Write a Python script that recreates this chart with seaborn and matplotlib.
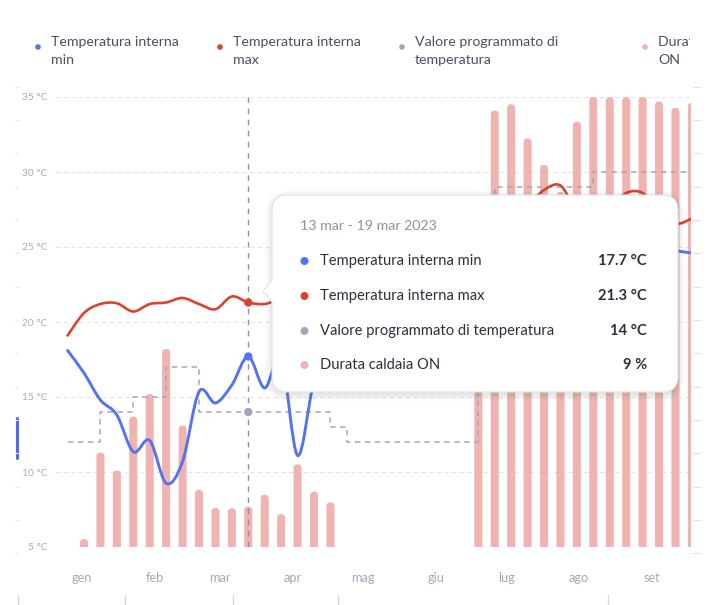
import numpy as np
import pandas as pd
import matplotlib
matplotlib.use("Agg")
import matplotlib.pyplot as plt
import seaborn as sns
from matplotlib.patches import FancyBboxPatch, Circle, Polygon, PathPatch
from matplotlib.path import Path
from matplotlib.lines import Line2D
from matplotlib.transforms import Bbox

# ---------------- data ----------------
week_start = pd.date_range("2022-12-26", periods=39, freq="7D")
temp_min = [18.1, 16.6, 14.8, 13.8, 11.35, 12.1, 9.25, 10.7, 15.35, 14.6, 15.8, 17.7, 15.6,
            17.6, 11.1, 16.0, 17.5, 18.2, 18.9, 19.4, 20.3, 20.8, 21.6, 22.1, 23.0,
            23.5, 24.1, 24.6, 24.9, 25.3, 25.6, 25.2, 25.7, 25.9, 25.4, 25.2, 24.9, 24.75, 24.6]
temp_max = [19.1, 20.6, 21.2, 21.25, 20.7, 21.2, 21.3, 21.6, 21.2, 20.85, 21.7, 21.3, 21.2,
            21.5, 21.0, 21.8, 22.4, 23.0, 23.6, 24.5, 25.2, 25.8, 26.4, 27.0, 27.4,
            27.6, 27.9, 27.5, 27.8, 28.8, 29.1, 27.5, 27.9, 27.6, 28.6, 28.6, 27.4, 26.55, 26.9]
setpoint = [12, 12, 14, 14, 15, 15, 17, 17, 14, 14, 14, 14, 14, 14, 14, 14, 13,
            12, 12, 12, 12, 12, 12, 12, 12, 20, 29, 29, 29, 29, 29, 29, 30, 30, 30, 30, 30, 30, 30]
boiler_on_pct = [0, 1.8, 21, 17, 29, 34, 44, 27, 12.7, 8.7, 8.6, 9, 11.6, 7.3, 18.4, 12.3, 9.9,
                 0, 0, 0, 0, 0, 0, 0, 0,
                 62, 97, 98.4, 90.8, 84.9, 78.9, 94.5, 100, 100, 100, 100, 99, 97.6, 98.7]
it_months = ["gen", "feb", "mar", "apr", "mag", "giu", "lug", "ago", "set", "ott", "nov", "dic"]
month_ticks = ["2023-01-01", "2023-02-01", "2023-03-01", "2023-04-01", "2023-05-01",
               "2023-06-01", "2023-07-01", "2023-08-01", "2023-09-01"]
y_ticks = [5, 10, 15, 20, 25, 30, 35]
legend_labels = [("Temperatura interna", "min"), ("Temperatura interna", "max"),
                 ("Valore programmato di", "temperatura"), ("Durata caldaia", "ON")]
tooltip_labels = ["Temperatura interna min", "Temperatura interna max",
                  "Valore programmato di temperatura", "Durata caldaia ON"]
hover = 11  # week of 13 mar 2023

BLUE = "#5672ee"
RED = "#d9432f"
GRAY = "#a3a6b8"
PINK = "#efb4af"

ref = pd.Timestamp("2023-01-02")
df = pd.DataFrame({
    "day": [(d - ref).days for d in week_start],
    "tmin": temp_min, "tmax": temp_max, "setp": setpoint, "pct": boiler_on_pct,
})


def smooth_line(ax, line):
    """Replace a straight polyline by a smooth curve through the same points."""
    x, y = line.get_xdata(), line.get_ydata()
    pts = np.column_stack([x, y]).astype(float)
    n = len(pts)
    verts = [pts[0]]
    codes = [Path.MOVETO]
    for i in range(n - 1):
        p0 = pts[i - 1] if i > 0 else pts[i]
        p1, p2 = pts[i], pts[i + 1]
        p3 = pts[i + 2] if i + 2 < n else pts[i + 1]
        c1 = p1 + (p2 - p0) / 6.0
        c2 = p2 - (p3 - p1) / 6.0
        verts += [c1, c2, p2]
        codes += [Path.CURVE4] * 3
    patch = PathPatch(Path(verts, codes), fc="none", ec=line.get_color(),
                      lw=line.get_linewidth(), capstyle="round", joinstyle="round",
                      zorder=line.get_zorder())
    line.remove()
    ax.add_patch(patch)


# ---------------- figure ----------------
sns.set_style("white")
plt.rcParams["font.family"] = ["Lato", "DejaVu Sans"]
W, H = 707, 605
fig = plt.figure(figsize=(W / 100, H / 100), dpi=100)
fig.patch.set_facecolor("white")

L, R, T, B = 55, 691, 97, 547
ax = fig.add_axes([L / W, (H - B) / H, (R - L) / W, (B - T) / H])
ax_bar = ax.twinx()
ax_line = ax.twinx()

px_day = 16.43 / 7.0
xmin = (L - 84) / px_day
xmax = xmin + (R - L) / px_day

# bars
bars = df[df["pct"] > 0]
sns.barplot(data=bars, x="day", y="pct", native_scale=True, orient="x", width=0.49,
            color=PINK, saturation=1, errorbar=None, ax=ax_bar, linewidth=0)
ax_bar.set_ylim(0, 100)
ax_bar.set_xlim(xmin, xmax)
aspect = px_day / ((B - T) / 100.0)
for p in list(ax_bar.patches):
    x0, y0, w, h = p.get_x(), p.get_y(), p.get_width(), p.get_height()
    r = w / 2.0
    ext = r * aspect * 1.3
    fb = FancyBboxPatch((x0, y0 - ext), w, h + ext,
                        boxstyle=f"round,pad=0,rounding_size={r}",
                        mutation_aspect=aspect, fc=PINK, ec="none", zorder=2)
    p.remove()
    ax_bar.add_patch(fb)

# lines
sns.lineplot(data=df, x="day", y="setp", ax=ax_line, color=GRAY, lw=1.1,
             drawstyle="steps-post", linestyle=(0, (3.5, 3)), errorbar=None)
sns.lineplot(data=df, x="day", y="tmax", ax=ax_line, color=RED, lw=1.9, errorbar=None)
sns.lineplot(data=df, x="day", y="tmin", ax=ax_line, color=BLUE, lw=2.1, errorbar=None)
for ln in list(ax_line.lines)[1:]:
    smooth_line(ax_line, ln)
hx = df["day"][hover]
ax_line.axvline(hx, color="#8d91a1", lw=1.0, linestyle=(0, (4, 4)), zorder=1)
sns.scatterplot(x=[hx, hx, hx], y=[temp_min[hover], temp_max[hover], setpoint[hover]],
                hue=["a", "b", "c"], palette=[BLUE, RED, GRAY], s=36, linewidth=0,
                legend=False, ax=ax_line, zorder=5)

for a in (ax, ax_bar, ax_line):
    a.set_xlim(xmin, xmax)
ax.set_ylim(5, 35)
ax_line.set_ylim(5, 35)

ax_bar.axis("off")
ax_line.axis("off")

# axis styling
for s in ax.spines.values():
    s.set_visible(False)
ax.set_yticks(y_ticks)
ax.set_yticklabels([f"{v} °C" for v in y_ticks])
mt = [(pd.Timestamp(m) - ref).days for m in month_ticks]
ax.set_xticks(mt)
ax.set_xticklabels(it_months[:len(mt)])
ax.tick_params(axis="y", length=0, pad=5.5, labelsize=7.3, labelcolor="#a7aab9")
ax.tick_params(axis="x", length=0, pad=18, labelsize=9.2, labelcolor="#a5a8ba")
ax.grid(axis="y", color="#e4e5ea", lw=0.8, linestyle=(0, (4, 3)))
ax.grid(axis="x", visible=False)
ax.set_xlabel("")
ax.set_ylabel("")

# ---------------- overlay (legend, tooltip, decorations) ----------------
ov = fig.add_axes([0, 0, 1, 1], zorder=10)
ov.set_xlim(0, W)
ov.set_ylim(H, 0)
ov.axis("off")
ov.patch.set_visible(False)

leg_colors = [BLUE, RED, GRAY, PINK]
dot_x = [38, 220, 402, 645]
clip = Bbox.from_extents(0, 0, 690, H)
for lab, c, dx in zip(legend_labels, leg_colors, dot_x):
    ov.add_patch(Circle((dx, 47), 2.8, fc=c, ec="none"))
    for k, line in enumerate(lab):
        t = ov.text(dx + 13, 42 + 18 * k, line, fontsize=10.2, color="#4a5064",
                    va="center", ha="left")
        t.set_clip_on(True)
        t.set_clip_box(clip)

# tooltip
tx0, ty0, tw, th = 272, 195, 406, 197
for pad, alpha in [(7, 0.015), (5, 0.02), (3, 0.03), (1.5, 0.04)]:
    ov.add_patch(FancyBboxPatch((tx0 - pad, ty0 - pad + 2), tw + 2 * pad, th + 2 * pad,
                                boxstyle=f"round,pad=0,rounding_size={16 + pad}",
                                fc="#1c2444", ec="none", alpha=alpha))
ov.add_patch(FancyBboxPatch((tx0, ty0), tw, th, boxstyle="round,pad=0,rounding_size=16",
                            fc="white", ec="#e3e4ea", lw=0.8))
ov.add_patch(Polygon([(tx0 + 1.5, 279), (263, 291), (tx0 + 1.5, 303)], closed=True,
                     fc="white", ec="none", zorder=3))
ov.add_line(Line2D([tx0, 263, tx0], [280, 291, 302], color="#e3e4ea", lw=0.8, zorder=4))

d0 = week_start[hover]
d1 = d0 + pd.Timedelta(days=6)
title = f"{d0.day} {it_months[d0.month - 1]} - {d1.day} {it_months[d1.month - 1]} {d1.year}"
ov.text(300, 226, title, fontsize=10.2, color="#8d91a2", va="center", ha="left")
vals = [f"{temp_min[hover]:g} °C", f"{temp_max[hover]:g} °C",
        f"{setpoint[hover]:g} °C", f"{boiler_on_pct[hover]:g} %"]
row_y = [261, 296, 331, 365]
for lab, v, c, yy in zip(tooltip_labels, vals, leg_colors, row_y):
    ov.add_patch(Circle((304.5, yy), 4, fc=c, ec="none", zorder=5))
    ov.text(320, yy, lab, fontsize=10.6, color="#2b303d", va="center", ha="left")
    ov.text(647, yy, v, fontsize=10.6, color="#2b303d", va="center", ha="right",
            fontweight="bold")

# decorations
ov.add_line(Line2D([16.5, 16.5], [418, 458], color="#4d6cf0", lw=2.2))
for yy in np.arange(86.7, 560, 33.33):
    ov.add_line(Line2D([693, 700], [yy, yy], color="#dfe0e6", lw=0.8))
    ov.add_line(Line2D([15, 18], [yy, yy], color="#e8e9ee", lw=0.8))
for xx in [18, 125, 233, 338, 608]:
    ov.add_line(Line2D([xx, xx], [595, 605], color="#d3d4db", lw=0.9))

fig.savefig("out.png", dpi=100, facecolor="white")
